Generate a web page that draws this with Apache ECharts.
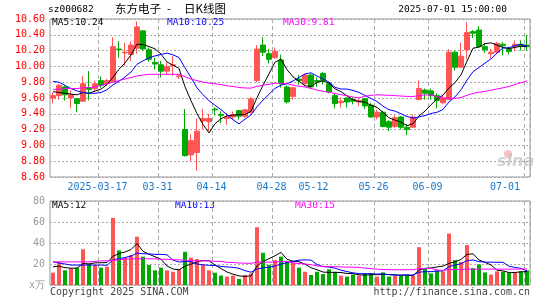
<!DOCTYPE html>
<html><head><meta charset="utf-8">
<script src="https://cdn.jsdelivr.net/npm/echarts@6/dist/echarts.min.js"></script>
<style>html,body{margin:0;padding:0;background:#fff}#c{width:545px;height:300px}</style>
</head><body><div id="c"></div>
<script>
// ---- data ----
const year = '2025';
const dates = ['03-05','03-06','03-07','03-10','03-11','03-12','03-13','03-14','03-17','03-18','03-19','03-20','03-21','03-24','03-25','03-26','03-27','03-28','03-31','04-01','04-02','04-03','04-07','04-08','04-09','04-10','04-11','04-14','04-15','04-16','04-17','04-18','04-21','04-22','04-23','04-24','04-25','04-28','04-29','04-30','05-06','05-07','05-08','05-09','05-12','05-13','05-14','05-15','05-16','05-19','05-20','05-21','05-22','05-23','05-26','05-27','05-28','05-29','05-30','06-03','06-04','06-05','06-06','06-09','06-10','06-11','06-12','06-13','06-16','06-17','06-18','06-19','06-20','06-23','06-24','06-25','06-26','06-27','06-30','07-01'];
const opens = [9.60,9.63,9.74,9.60,9.59,9.56,9.73,9.72,9.82,9.78, 9.81,10.22,10.17,10.15,10.23,10.45,10.21,10.05,10.02,9.94, 10.01,9.87,9.20,8.88,8.91,9.31,9.30,9.46,9.39,9.34, 9.36,9.44,9.37,9.42,9.82,10.27,10.16,10.11,10.08,9.74, 9.62,9.84,9.78,9.89,9.82,9.91,9.78,9.63,9.54,9.60, 9.58,9.55,9.59,9.51,9.36,9.42,9.30,9.24,9.36,9.23, 9.23,9.58,9.70,9.69,9.63,9.54,9.58,10.18,9.99,10.21, 10.44,10.46,10.25,10.16,10.18,10.28,10.22,10.25,10.28,10.27];
const closes = [9.63,9.76,9.64,9.64,9.53,9.78,9.71,9.78,9.76,9.82, 10.25,10.21,10.18,10.27,10.50,10.22,10.09,10.03,9.94,10.00, 10.02,9.88,8.87,9.06,9.18,9.34,9.34,9.45,9.38,9.36, 9.39,9.37,9.45,9.59,10.22,10.18,10.09,10.19,9.78,9.55, 9.73,9.82,9.89,9.74,9.81,9.82,9.68,9.53,9.56,9.55, 9.56,9.57,9.50,9.36,9.42,9.24,9.23,9.35,9.23,9.20, 9.36,9.72,9.66,9.63,9.57,9.60,10.18,9.99,10.13,10.43, 10.42,10.25,10.21,10.18,10.29,10.26,10.19,10.28,10.26,10.25];
const lows = [9.53,9.58,9.57,9.47,9.42,9.55,9.57,9.69,9.73,9.76, 9.80,10.11,10.01,10.07,10.16,10.20,10.06,9.96,9.86,9.89, 9.88,9.84,8.86,8.80,8.68,9.20,9.18,9.38,9.28,9.26, 9.33,9.33,9.35,9.40,9.80,10.13,10.04,10.10,9.73,9.53, 9.58,9.77,9.77,9.72,9.74,9.77,9.66,9.47,9.48,9.48, 9.52,9.50,9.46,9.35,9.33,9.23,9.18,9.22,9.20,9.13, 9.22,9.58,9.58,9.58,9.47,9.52,9.58,9.95,9.98,10.09, 10.36,10.24,10.17,10.10,10.16,10.14,10.15,10.20,10.20,10.20];
const highs = [9.67,9.78,9.76,9.70,9.60,9.88,9.94,9.82,9.87,9.84, 10.37,10.32,10.30,10.32,10.57,10.45,10.24,10.11,10.07,10.05, 10.13,9.90,9.46,9.14,9.34,9.46,9.40,9.48,9.43,9.41, 9.43,9.45,9.46,9.61,10.27,10.37,10.22,10.24,10.15,9.76, 9.74,9.89,9.91,9.91,9.86,9.93,9.80,9.65,9.61,9.61, 9.61,9.59,9.60,9.54,9.45,9.44,9.32,9.38,9.37,9.27, 9.39,9.82,9.72,9.72,9.66,9.64,10.22,10.20,10.30,10.56, 10.46,10.51,10.29,10.22,10.31,10.31,10.25,10.33,10.33,10.40];
const volumes = [11.7,22,14,16,16.5,34,20,19,16.5,17.4, 64,33,26,28.5,46,27,19,14,16.5,14, 12.6,15,31.6,26,24.7,19,14,11.7,9,8, 9,5.7,9.5,11,55,30.7,19,23.7,27,22, 21.5,16.5,12.6,9.5,12.6,10.4,15,12.6,8.9,8, 10,9,11,11,8,12,8,9,9,9, 9,36,16,11,14,13,49,23.7,22,38, 16,19.6,12,10,13,12.6,12,12,13,14];
// moving-average values before the window fills (earlier days are off-chart)
const ma5Head = [9.68,9.67,9.66,9.65];
const ma10Head = [9.81,9.80,9.76,9.72,9.69,9.67,9.66,9.66,9.67];
const ma30Head = [9.71,9.71,9.72,9.72,9.72,9.73,9.73,9.74,9.76,9.78,9.80,9.82,9.84,9.86,9.88,9.89,9.90,9.90,9.90,9.90,9.90,9.90,9.87,9.84,9.82,9.80,9.79,9.78,9.77];
const vma5Head = [17.4,18,16.5,16];
const vma10Head = [22,21,20,19,19,19,19,19,19];
const vma30Head = [22,22,22,22,22,22,22,22.5,23,23,23.5,24,24.5,25,25,25,25,25,24.5,24.5,24,24,23.5,23.5,23,23,23,22.5,22.5];
const priceMin = 8.6, priceMax = 10.6, priceStep = 0.2;
const volMin = 0, volMax = 80, volStep = 20;
const labelIdx = [8,18,27,37,44,54,63,79];
const lineIdx = [8,18,27,37,54,63,79];
const legendMain = ['MA5:10.24','MA10:10.25','MA30:9.81'];
const legendVol = ['MA5:12','MA10:13','MA30:15'];

// ---- build ----
const RED = '#ff5555', GREEN = '#00a800';
const MONO = 'DejaVu Sans Mono';
function ma(vals, n, head) {
  return vals.map((v, i) => {
    if (i < n - 1) return head[i];
    let s = 0; for (let k = i - n + 1; k <= i; k++) s += vals[k];
    return +(s / n).toFixed(3);
  });
}
const kData = dates.map((d, i) => [opens[i], closes[i], lows[i], highs[i]]);
const volData = volumes.map((v, i) => ({ value: v, itemStyle: { color: closes[i] >= opens[i] ? RED : GREEN } }));
const lineSer = (name, data, color, xi, yi) => ({
  name, type: 'line', data, xAxisIndex: xi, yAxisIndex: yi, symbol: 'none', smooth: false,
  lineStyle: { color, width: 1 }, z: 5, animation: false
});
const splitX = { show: true, interval: (idx) => lineIdx.includes(idx), lineStyle: { color: '#aaa', type: [4, 3], width: 1 } };
const splitY = { show: true, lineStyle: { color: '#aaa', type: [2, 2], width: 1 } };

const chart = echarts.init(document.getElementById('c'), null, { renderer: 'canvas' });
chart.setOption({
  animation: false,
  backgroundColor: '#fff',
  grid: [
    { left: 50, top: 19, width: 480, height: 158, show: true, borderColor: '#999', borderWidth: 1, backgroundColor: 'transparent' },
    { left: 50, top: 201, width: 480, height: 84, show: true, borderColor: '#999', borderWidth: 1, backgroundColor: 'transparent' }
  ],
  xAxis: [
    { type: 'category', gridIndex: 0, data: dates, boundaryGap: true,
      axisLine: { show: false }, axisTick: { show: false }, splitLine: splitX,
      axisLabel: { interval: (idx) => labelIdx.includes(idx), alignMaxLabel: 'right',
        formatter: (v, idx) => idx === 8 ? year + '-' + v : v,
        color: '#1a78c8', fontFamily: MONO, fontSize: 10, margin: 5, padding: [0, 7, 0, 0] } },
    { type: 'category', gridIndex: 1, data: dates, boundaryGap: true,
      axisLine: { show: false }, axisTick: { show: false }, splitLine: splitX, axisLabel: { show: false } }
  ],
  yAxis: [
    { type: 'value', gridIndex: 0, min: priceMin, max: priceMax, interval: priceStep, scale: true,
      axisLine: { show: false }, axisTick: { show: false }, splitLine: splitY,
      axisLabel: { color: '#ff0000', fontFamily: MONO, fontSize: 10, margin: 5, formatter: v => v.toFixed(2) } },
    { type: 'value', gridIndex: 1, min: volMin, max: volMax, interval: volStep,
      axisLine: { show: false }, axisTick: { show: false }, splitLine: splitY,
      axisLabel: { color: '#999', fontFamily: MONO, fontSize: 10, margin: 5, formatter: v => v === 0 ? 'x万' : String(v) } }
  ],
  series: [
    { type: 'candlestick', data: kData, xAxisIndex: 0, yAxisIndex: 0, barWidth: 5,
      itemStyle: { color: RED, color0: GREEN, borderColor: RED, borderColor0: GREEN, borderWidth: 1 } },
    lineSer('MA5', ma(closes, 5, ma5Head), '#000', 0, 0),
    lineSer('MA10', ma(closes, 10, ma10Head), '#0000ff', 0, 0),
    lineSer('MA30', ma(closes, 30, ma30Head), '#ff00ff', 0, 0),
    { type: 'bar', data: volData, xAxisIndex: 1, yAxisIndex: 1, barWidth: 4 },
    lineSer('VMA5', ma(volumes, 5, vma5Head), '#000', 1, 1),
    lineSer('VMA10', ma(volumes, 10, vma10Head), '#0000ff', 1, 1),
    lineSer('VMA30', ma(volumes, 30, vma30Head), '#ff00ff', 1, 1)
  ],
  graphic: [
    { type: 'text', left: 48, top: 5, style: { text: 'sz000682', font: '9.5px "DejaVu Sans Mono"', fill: '#000' } },
    { type: 'text', left: 115, top: 3, style: { text: '东方电子', font: '11.5px "Noto Sans CJK SC"', fill: '#000' } },
    { type: 'text', left: 167, top: 3, style: { text: '-', font: '11.5px "Noto Sans CJK SC"', fill: '#000' } },
    { type: 'text', left: 184, top: 3, style: { text: '日K线图', font: '11.5px "Noto Sans CJK SC"', fill: '#000' } },
    { type: 'text', right: 38, top: 5, style: { text: '2025-07-01 15:00:00', font: '9.5px "DejaVu Sans Mono"', fill: '#000' } },
    { type: 'text', left: 52, top: 18, style: { text: legendMain[0], font: '9.5px "DejaVu Sans Mono"', fill: '#000' } },
    { type: 'text', left: 167, top: 18, style: { text: legendMain[1], font: '9.5px "DejaVu Sans Mono"', fill: '#0000ff' } },
    { type: 'text', left: 283, top: 18, style: { text: legendMain[2], font: '9.5px "DejaVu Sans Mono"', fill: '#ff00ff' } },
    { type: 'text', left: 52, top: 201, style: { text: legendVol[0], font: '9.5px "DejaVu Sans Mono"', fill: '#000' } },
    { type: 'text', left: 175, top: 201, style: { text: legendVol[1], font: '9.5px "DejaVu Sans Mono"', fill: '#0000ff' } },
    { type: 'text', left: 295, top: 201, style: { text: legendVol[2], font: '9.5px "DejaVu Sans Mono"', fill: '#ff00ff' } },
    { type: 'text', left: 50, top: 287, style: { text: 'Copyright 2025 SINA.COM', font: '10px "DejaVu Sans Mono"', fill: '#444' } },
    { type: 'text', right: 15, top: 287, style: { text: 'http://finance.sina.com.cn', font: '10px "DejaVu Sans Mono"', fill: '#444' } },
    { type: 'circle', shape: { cx: 508, cy: 154, r: 4 }, style: { fill: 'rgba(235,120,120,0.45)' }, silent: true },
    { type: 'text', left: 497, top: 154, style: { text: 'sina', font: 'italic bold 16px "DejaVu Sans"', fill: 'rgba(180,180,180,0.6)' }, silent: true }
  ]
});
</script></body></html>
